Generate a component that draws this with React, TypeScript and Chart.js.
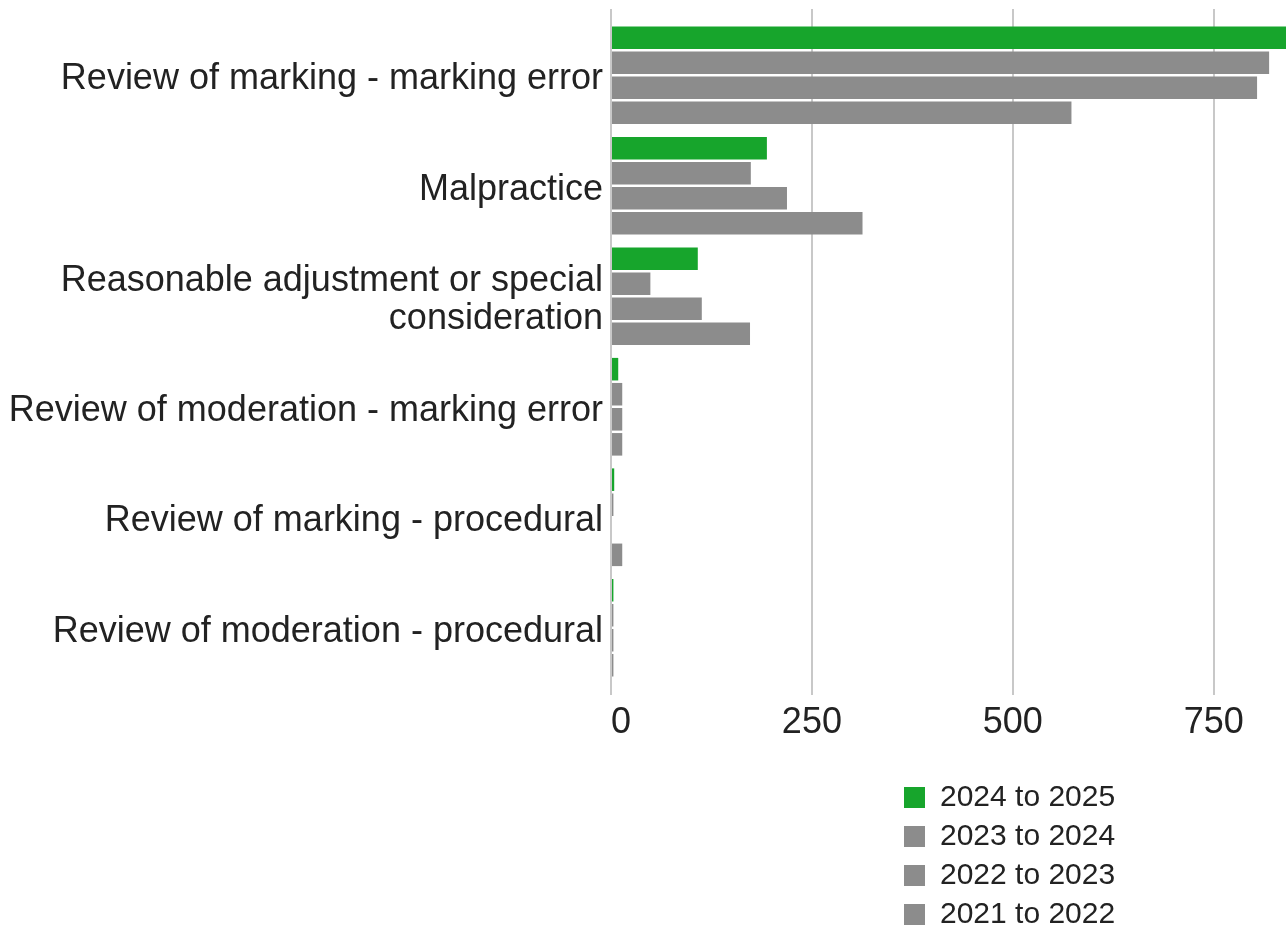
import React, { useEffect, useRef } from 'react';
import { Chart, registerables } from 'chart.js';

Chart.register(...registerables);

const categories: (string | string[])[] = [
  'Review of marking - marking error',
  'Malpractice',
  ['Reasonable adjustment or special', 'consideration'],
  'Review of moderation - marking error',
  'Review of marking - procedural',
  'Review of moderation - procedural',
];

const seriesLabels = ['2024 to 2025', '2023 to 2024', '2022 to 2023', '2021 to 2022'];
const values2024to2025 = [842, 194, 108, 9, 4, 3];
const values2023to2024 = [819, 174, 49, 14, 3, 3];
const values2022to2023 = [804, 219, 113, 14, 0, 3];
const values2021to2022 = [573, 313, 173, 14, 14, 3];
const seriesColors = ['#17a52c', '#8c8c8c', '#8c8c8c', '#8c8c8c'];

const xTicks = [0, 250, 500, 750];
const xMin = 0;
const xMax = 840;

const FONT = "'Liberation Sans', Arial, Helvetica, sans-serif";
const TEXT = '#222222';
const GRID = '#c8c8c8';

const layoutTweaksPlugin = {
  id: 'layoutTweaks',
  afterLayout(chart: any) {
    // let the value grid lines run a little above the first category group
    const area = chart.chartArea;
    area.top = 9;
    area.height = area.bottom - area.top;
    // stack the legend entries in one column under the axis
    const lg = chart.legend;
    if (!lg) return;
    lg.left = 895;
    lg.right = 1200;
    lg.width = lg.right - lg.left;
    lg.top = 773.5;
    lg.bottom = chart.height;
    lg.height = lg.bottom - lg.top;
  },
};

export default function App() {
  const canvasRef = useRef<HTMLCanvasElement | null>(null);

  useEffect(() => {
    if (!canvasRef.current) return;
    const allValues = [values2024to2025, values2023to2024, values2022to2023, values2021to2022];
    const chart = new Chart(canvasRef.current, {
      type: 'bar',
      data: {
        labels: categories as any,
        datasets: seriesLabels.map((label, i) => ({
          label,
          data: allValues[i],
          backgroundColor: seriesColors[i],
          borderWidth: 0,
          categoryPercentage: 0.907,
          barPercentage: 0.9,
        })),
      },
      options: {
        indexAxis: 'y',
        animation: false,
        responsive: true,
        maintainAspectRatio: false,
        devicePixelRatio: 1,
        layout: { padding: { top: 20, right: 0, left: 0, bottom: 138 } },
        scales: {
          x: {
            type: 'linear',
            min: xMin,
            max: xMax,
            afterBuildTicks: (scale: any) => {
              scale.ticks = xTicks.map((v) => ({ value: v }));
            },
            afterFit: (scale: any) => {
              scale.height = 57;
            },
            grid: {
              color: GRID,
              lineWidth: 2,
              drawTicks: true,
              tickLength: 12,
              tickColor: GRID,
            },
            border: { display: false },
            ticks: {
              padding: 6,
              color: TEXT,
              font: { family: FONT, size: 36 },
              maxRotation: 0,
              autoSkip: false,
              callback: (v: any) => (Number(v) === 0 ? '  0' : String(v)),
            },
          },
          y: {
            type: 'category',
            afterFit: (scale: any) => {
              scale.width = 611;
              scale.paddingTop = 0;
              scale.paddingBottom = 0;
            },
            grid: { display: false, drawTicks: false },
            border: { display: false },
            ticks: {
              padding: 8,
              labelOffset: 4,
              color: TEXT,
              font: { family: FONT, size: 36, lineHeight: 1.05 },
              autoSkip: false,
            },
          },
        },
        plugins: {
          legend: {
            display: true,
            position: 'bottom',
            align: 'start',
            labels: {
              boxWidth: 21,
              boxHeight: 21,
              padding: 9,
              color: TEXT,
              font: { family: FONT, size: 30 },
            },
          },
          tooltip: { enabled: false },
        },
      },
      plugins: [layoutTweaksPlugin],
    } as any);
    return () => chart.destroy();
  }, []);

  return (
    <div style={{ position: 'absolute', left: 0, top: 0, width: 1286, height: 927, background: '#ffffff' }}>
      <canvas ref={canvasRef} />
    </div>
  );
}
